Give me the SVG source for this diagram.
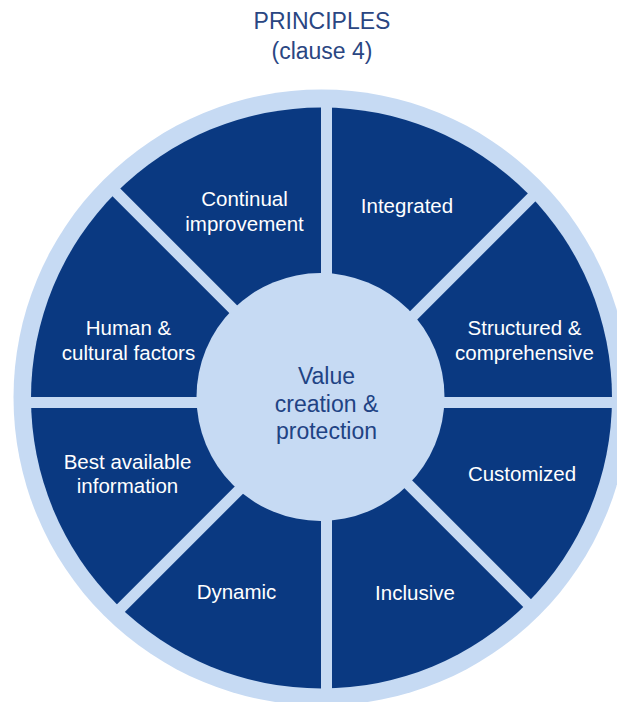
<svg xmlns="http://www.w3.org/2000/svg" width="617" height="702" viewBox="0 0 617 702">
  <style>
    .seg { fill: #0a3981; }
    .lbl { font-family: "Liberation Sans", Arial, sans-serif; font-size: 20.5px; fill: #ffffff; text-anchor: middle; }
    .title { font-family: "Liberation Sans", Arial, sans-serif; font-size: 23px; fill: #2a4682; text-anchor: middle; }
    .core { font-family: "Liberation Sans", Arial, sans-serif; font-size: 23px; fill: #1f4384; text-anchor: middle; }
  </style>
  <defs>
    <clipPath id="disc">
      <circle cx="321.5" cy="398" r="290.5"/>
    </clipPath>
    <!-- one wedge, bounded by the two separator bands; rotated for each segment -->
    <path id="wedge" d="M339.78 397 L939.78 397 L764.04 -27.26 Z"/>
  </defs>

  <rect width="617" height="702" fill="#ffffff"/>

  <!-- title -->
  <g id="title">
    <text class="title" x="322" y="29">PRINCIPLES</text>
    <text class="title" x="322" y="59">(clause 4)</text>
  </g>

  <!-- outer ring -->
  <circle id="ring" cx="321.5" cy="397.5" r="308" fill="#c6daf3"/>

  <g id="segments" clip-path="url(#disc)">
    <g id="structured">
      <use href="#wedge" class="seg"/>
      <text class="lbl" x="524.5" y="334.5">Structured &amp;</text>
      <text class="lbl" x="524.5" y="359.5">comprehensive</text>
    </g>
    <g id="customized">
      <use href="#wedge" class="seg" transform="rotate(45 326.5 402.5)"/>
      <text class="lbl" x="522" y="481">Customized</text>
    </g>
    <g id="inclusive">
      <use href="#wedge" class="seg" transform="rotate(90 326.5 402.5)"/>
      <text class="lbl" x="415" y="600">Inclusive</text>
    </g>
    <g id="dynamic">
      <use href="#wedge" class="seg" transform="rotate(135 326.5 402.5)"/>
      <text class="lbl" x="236.5" y="599">Dynamic</text>
    </g>
    <g id="best-information">
      <use href="#wedge" class="seg" transform="rotate(180 326.5 402.5)"/>
      <text class="lbl" x="127.5" y="468.5">Best available</text>
      <text class="lbl" x="127.5" y="493">information</text>
    </g>
    <g id="human-factors">
      <use href="#wedge" class="seg" transform="rotate(225 326.5 402.5)"/>
      <text class="lbl" x="128.5" y="334.5">Human &amp;</text>
      <text class="lbl" x="128.5" y="359.5">cultural factors</text>
    </g>
    <g id="continual-improvement">
      <use href="#wedge" class="seg" transform="rotate(270 326.5 402.5)"/>
      <text class="lbl" x="244.5" y="206">Continual</text>
      <text class="lbl" x="244.5" y="230.5">improvement</text>
    </g>
    <g id="integrated">
      <use href="#wedge" class="seg" transform="rotate(315 326.5 402.5)"/>
      <text class="lbl" x="407" y="213">Integrated</text>
    </g>
  </g>

  <!-- centre -->
  <g id="value-creation">
    <circle cx="320.5" cy="397" r="124" fill="#c6daf3"/>
    <text class="core" x="326.5" y="384">Value</text>
    <text class="core" x="326.5" y="411.5">creation &amp;</text>
    <text class="core" x="326.5" y="438.5">protection</text>
  </g>
</svg>
